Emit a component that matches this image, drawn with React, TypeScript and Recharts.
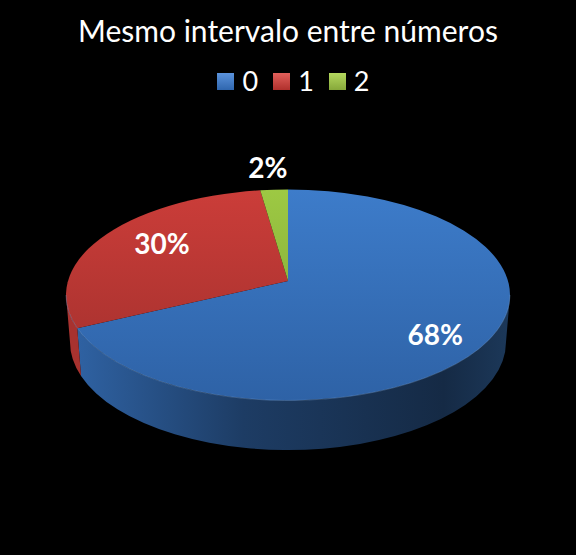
import { Legend, Pie, PieChart } from "recharts";

const categories = ["0", "1", "2"];
const shares = [68, 29.7, 2.3];
const labels = ["68%", "30%", "2%"];

const topColors = [
  ["#3d7cca", "#2e62a6"],
  ["#cb3d39", "#9f2f2c"],
  ["#9dc943", "#7c9f35"],
];
const wallColors = [
  ["#2f62a3", "#1d3c64", "#152a45", "#1c3859"],
  ["#a8322f", "#8c2826", "#8c2826", "#8c2826"],
  ["#7c9f35", "#7c9f35", "#7c9f35", "#7c9f35"],
];
const legendColors = [
  ["#5b93dc", "#2f66ae"],
  ["#e2605b", "#b0302c"],
  ["#b4d85e", "#86a83a"],
];

// label spots: share of the way out from the apex, then a small nudge
const labelReach = [0.78, 0.65, 1.07];
const labelNudge = [
  [1, 9],
  [1, -6],
  [-3, -1],
];

const tableData = categories.map((name, i) => ({
  name,
  value: shares[i],
  fill: topColors[i][0],
}));

// the pie is tilted: apex sits above the centre of the top ellipse
const RY_RATIO = 105.5 / 222;
const APEX_DROP = 14;
const BOTTOM = { dy: 47, rx: 218, ry: 108 };

function rad(d: number) {
  return (d * Math.PI) / 180;
}

// where the ray at a pie angle meets the top ellipse (angle in degrees, clockwise on screen)
function ellipseAngle(angle: number, rx: number, ry: number) {
  const dx = Math.cos(rad(angle));
  const dy = -Math.sin(rad(angle));
  const a = dx * dx + dy * dy;
  const b = (2 * dy * -APEX_DROP) / ry;
  const c = (APEX_DROP * APEX_DROP) / (ry * ry) - 1;
  const s = (-b + Math.sqrt(b * b - 4 * a * c)) / (2 * a);
  return (Math.atan2(s * dy - APEX_DROP / ry, s * dx) * 180) / Math.PI;
}

function Slice3D(props: any) {
  const { cx, cy, outerRadius, startAngle, endAngle, index } = props;
  const rx = outerRadius;
  const ry = rx * RY_RATIO;
  const ey = cy + APEX_DROP;

  const from = ellipseAngle(startAngle, rx, ry);
  let to = ellipseAngle(endAngle, rx, ry);
  while (to <= from) to += 360;

  const top = (p: number) => [cx + rx * Math.cos(rad(p)), ey + ry * Math.sin(rad(p))];
  const bot = (p: number) => [
    cx + BOTTOM.rx * Math.cos(rad(p)),
    ey + BOTTOM.dy + BOTTOM.ry * Math.sin(rad(p)),
  ];

  const a = top(from);
  const b = top(to);
  const large = to - from > 180 ? 1 : 0;
  const sector = `M${cx},${cy} L${a[0]},${a[1]} A${rx},${ry} 0 ${large} 1 ${b[0]},${b[1]} Z`;

  const lo = Math.max(from, 0);
  const hi = Math.min(to, 180);
  const hasWall = hi > lo;
  let wall = "";
  let rim = "";
  if (hasWall) {
    const t1 = top(lo);
    const t2 = top(hi);
    const b1 = bot(lo);
    const b2 = bot(hi);
    wall = `M${t1[0]},${t1[1]} A${rx},${ry} 0 0 1 ${t2[0]},${t2[1]} L${b2[0]},${b2[1]} A${BOTTOM.rx},${BOTTOM.ry} 0 0 0 ${b1[0]},${b1[1]} Z`;
    rim = `M${t1[0]},${t1[1]} A${rx},${ry} 0 0 1 ${t2[0]},${t2[1]}`;
  }

  const w = wallColors[index];
  return (
    <g>
      <defs>
        <linearGradient
          id={`top-${index}`}
          gradientUnits="userSpaceOnUse"
          x1={0}
          y1={ey - ry}
          x2={0}
          y2={ey + ry}
        >
          <stop offset="0" stopColor={topColors[index][0]} />
          <stop offset="1" stopColor={topColors[index][1]} />
        </linearGradient>
        <linearGradient
          id={`wall-${index}`}
          gradientUnits="userSpaceOnUse"
          x1={cx - rx}
          y1={0}
          x2={cx + rx}
          y2={0}
        >
          <stop offset="0.02" stopColor={w[0]} />
          <stop offset="0.4" stopColor={w[1]} />
          <stop offset="0.85" stopColor={w[2]} />
          <stop offset="1" stopColor={w[3]} />
        </linearGradient>
      </defs>
      {hasWall && <path d={wall} fill={`url(#wall-${index})`} />}
      <path d={sector} fill={`url(#top-${index})`} />
      {hasWall && (
        <path d={rim} fill="none" stroke="#7fa8dc" strokeOpacity={0.35} strokeWidth={1} />
      )}
    </g>
  );
}

function SliceLabel(props: any) {
  const { cx, cy, outerRadius, midAngle, index } = props;
  const rx = outerRadius * labelReach[index];
  const ry = rx * RY_RATIO;
  return (
    <text
      x={cx + rx * Math.cos(rad(midAngle)) + labelNudge[index][0]}
      y={cy - ry * Math.sin(rad(midAngle)) + labelNudge[index][1]}
      fill="#ffffff"
      fontFamily="Lato, sans-serif"
      fontWeight={700}
      fontSize={28}
      textAnchor="middle"
      dominantBaseline="central"
    >
      {labels[index]}
    </text>
  );
}

function LegendRow({ payload }: any) {
  return (
    <div style={{ display: "flex", justifyContent: "center", marginLeft: 11, marginRight: 0 }}>
      {(payload ?? []).map((entry: any, i: number) => (
        <div
          key={entry.value}
          style={{ display: "flex", alignItems: "center", marginLeft: i === 0 ? 0 : 15 }}
        >
          <span
            style={{
              width: 17,
              height: 17,
              marginRight: 8,
              background: `linear-gradient(${legendColors[i][0]}, ${legendColors[i][1]})`,
            }}
          />
          <span style={{ color: "#fff", fontSize: 27, lineHeight: "28px" }}>{entry.value}</span>
        </div>
      ))}
    </div>
  );
}

export default function App() {
  return (
    <div
      style={{
        position: "absolute",
        left: 0,
        top: 0,
        width: 576,
        height: 555,
        background: "#000",
        fontFamily: "Lato, sans-serif",
      }}
    >
      <div
        style={{
          position: "absolute",
          top: 12,
          width: 576,
          textAlign: "center",
          color: "#fff",
          fontSize: 30,
          lineHeight: "36px",
          whiteSpace: "nowrap",
        }}
      >
        Mesmo intervalo entre números
      </div>
      <PieChart width={576} height={555} margin={{ top: 0, right: 0, bottom: 0, left: 0 }}>
        <Legend
          content={<LegendRow />}
          verticalAlign="top"
          wrapperStyle={{ top: 67, left: 0, width: 576 }}
        />
        <Pie
          data={tableData}
          dataKey="value"
          nameKey="name"
          cx={288}
          cy={253}
          outerRadius={222}
          startAngle={90}
          endAngle={-270}
          stroke="none"
          shape={Slice3D}
          label={SliceLabel}
          labelLine={false}
          isAnimationActive={false}
        />
      </PieChart>
    </div>
  );
}
